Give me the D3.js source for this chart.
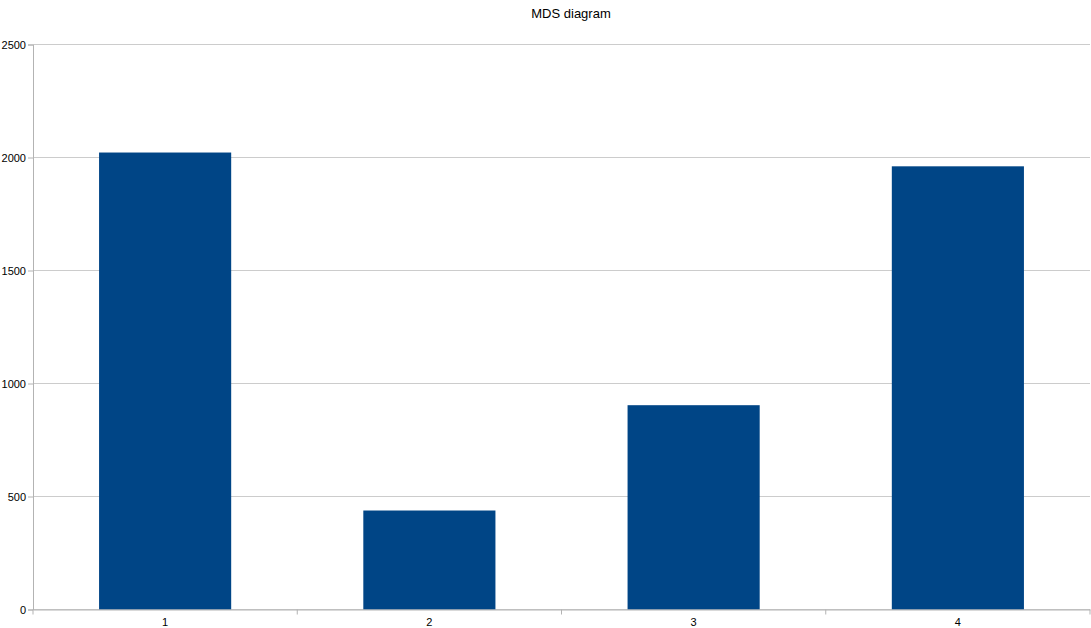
<!DOCTYPE html>
<html><head><meta charset="utf-8">
<script src="https://cdn.jsdelivr.net/npm/d3@7"></script>
<style>body{margin:0;background:#fff}svg{display:block}text{font-family:"Liberation Sans",Arial,sans-serif}</style>
</head><body>
<script>
const title = "MDS diagram";
const categories = ["1","2","3","4"];
const values = [2022, 438, 904, 1961];
const yTicks = [0, 500, 1000, 1500, 2000, 2500];

const W = 1091, H = 628;
const m = {left: 33, right: 1, top: 44.5, bottom: 18.5};
const svg = d3.select("body").append("svg").attr("width", W).attr("height", H);

const x = d3.scaleBand().domain(categories).range([m.left, W - m.right]).paddingInner(0.5).paddingOuter(0.25);
const y = d3.scaleLinear().domain([0, 2500]).range([H - m.bottom, m.top]);

// gridlines
svg.append("g").selectAll("line").data(yTicks).join("line")
  .attr("x1", m.left).attr("x2", W - m.right)
  .attr("y1", d => y(d)).attr("y2", d => y(d))
  .attr("stroke", "#cccccc").attr("stroke-width", 1);

// bars
svg.append("g").selectAll("rect").data(values).join("rect")
  .attr("x", (d, i) => x(categories[i]))
  .attr("width", x.bandwidth())
  .attr("y", d => y(d))
  .attr("height", d => y(0) - y(d))
  .attr("fill", "#004586");

// y axis
const ya = svg.append("g").attr("transform", `translate(${m.left},0)`)
  .call(d3.axisLeft(y).tickValues(yTicks).tickSize(5).tickPadding(2).tickFormat(d3.format("d")));
ya.select(".domain").attr("stroke", "#b3b3b3");
ya.selectAll(".tick line").attr("stroke", "#b3b3b3");
ya.selectAll("text").attr("font-size", 11).attr("fill", "#000").attr("font-family", '"Liberation Sans",Arial,sans-serif');

// x axis
const xa = svg.append("g").attr("transform", `translate(0,${y(0)})`)
  .call(d3.axisBottom(x).tickSize(0).tickPadding(9));
xa.select(".domain").attr("stroke", "#b3b3b3");
xa.selectAll("text").attr("font-size", 11).attr("fill", "#000").attr("font-family", '"Liberation Sans",Arial,sans-serif');
// boundary ticks
const edges = [m.left].concat(categories.map(c => x(c) + x.bandwidth() + x.step() * 0.25));
svg.append("g").selectAll("line").data(edges).join("line")
  .attr("x1", d => d).attr("x2", d => d)
  .attr("y1", y(0)).attr("y2", y(0) + 5)
  .attr("stroke", "#b3b3b3");

svg.append("text").attr("x", 571).attr("y", 18).attr("text-anchor", "middle")
  .attr("font-size", 13).attr("fill", "#000").text(title);
</script>
</body></html>
